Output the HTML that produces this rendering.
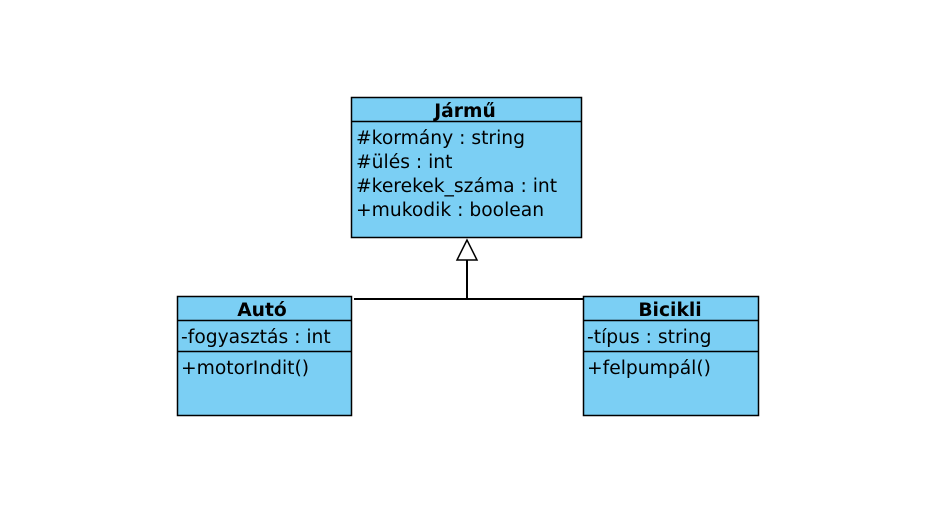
<!DOCTYPE html>
<html><head><meta charset="utf-8"><style>html,body{margin:0;padding:0;background:#fff}</style></head>
<body>
<svg width="942" height="522" xmlns="http://www.w3.org/2000/svg" font-family="DejaVu Sans, sans-serif" font-size="18.7">
<rect width="942" height="522" fill="#fff"/>
<g stroke="#000" stroke-width="1.5" fill="#7bcff4">
<rect x="351.5" y="97.5" width="230" height="140"/>
<line x1="351.5" y1="121.5" x2="581.5" y2="121.5"/>
<rect x="177.5" y="296.5" width="174" height="119"/>
<line x1="177.5" y1="320.5" x2="351.5" y2="320.5"/>
<line x1="177.5" y1="351.5" x2="351.5" y2="351.5"/>
<rect x="583.5" y="296.5" width="175" height="119"/>
<line x1="583.5" y1="320.5" x2="758.5" y2="320.5"/>
<line x1="583.5" y1="351.5" x2="758.5" y2="351.5"/>
</g>
<g stroke="#000" stroke-width="2" fill="none">
<line x1="354" y1="299" x2="583" y2="299"/>
<line x1="467" y1="299" x2="467" y2="260"/>
<polygon points="467,240 457,260 477,260" fill="#fff" stroke-width="1.5"/>
</g>
<g fill="#000">
<text x="465" y="117" font-weight="bold" text-anchor="middle">Jármű</text>
<text x="356" y="144">#kormány : string</text>
<text x="356" y="168">#ülés : int</text>
<text x="356" y="192">#kerekek_száma : int</text>
<text x="356" y="216">+mukodik : boolean</text>
<text x="262" y="316" font-weight="bold" text-anchor="middle">Autó</text>
<text x="181" y="343">-fogyasztás : int</text>
<text x="181" y="374">+motorIndit()</text>
<text x="670" y="316" font-weight="bold" text-anchor="middle">Bicikli</text>
<text x="587" y="343">-típus : string</text>
<text x="587" y="374">+felpumpál()</text>
</g>
</svg>
</body></html>
